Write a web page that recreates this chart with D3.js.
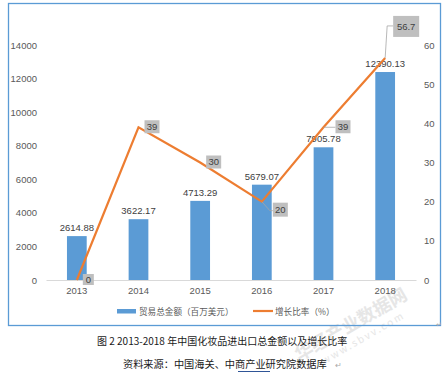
<!DOCTYPE html>
<html><head><meta charset="utf-8">
<script src="https://cdn.jsdelivr.net/npm/d3@7"></script>
<style>
html,body{margin:0;padding:0;background:#fff;}
svg{display:block;font-family:"Liberation Sans","Noto Sans CJK SC",sans-serif;}
</style></head>
<body>
<svg id="c" width="445" height="374"></svg>
<script>
const years = ["2013","2014","2015","2016","2017","2018"];
const tradeTotal = [2614.88, 3622.17, 4713.29, 5679.07, 7905.78, 12390.13];
const growthRate = [0, 39, 30, 20, 39, 56.7];
const leftTicks = [0, 2000, 4000, 6000, 8000, 10000, 12000, 14000];
const rightTicks = [0, 10, 20, 30, 40, 50, 60];
const legendLabels = ["贸易总金额（百万美元）", "增长比率（%）"];
const captionText = "图 2 2013-2018 年中国化妆品进出口总金额以及增长比率";
const sourceText = "资料来源：中国海关、中商产业研究院数据库";

const svg = d3.select("#c");
const cjk = '"Noto Sans CJK SC","Liberation Sans",sans-serif';
const gray = "#595959";
const blue = "#5B9BD5", orange = "#ED7D31";

// watermark (drawn first, behind everything)
const wm = svg.append("g").attr("transform","translate(354,330) rotate(-30)").attr("fill","#e6e6e6").attr("font-family",cjk);
wm.append("text").attr("x",0).attr("y",0).attr("text-anchor","middle").attr("font-size",18).attr("font-weight","bold").text("华经产业数据网");
wm.append("text").attr("x",4).attr("y",15).attr("text-anchor","middle").attr("font-size",10).attr("letter-spacing",2).text("www.sbvv.com");

// chart frame
svg.append("rect").attr("x",8.5).attr("y",3.5).attr("width",432).attr("height",322)
  .attr("fill","none").attr("stroke",blue).attr("stroke-width",1.3);

const plot = {left:46, right:416, top:45, bottom:280};
const x = d3.scaleBand().domain(years).range([plot.left, plot.right]).paddingInner(0.68).paddingOuter(0.34);
const yL = d3.scaleLinear().domain([0,14000]).range([plot.bottom, plot.top]);
const yR = d3.scaleLinear().domain([0,60]).range([plot.bottom, plot.top]);
const cx = d => x(d) + x.bandwidth()/2;

// left axis
const gL = svg.append("g").attr("transform",`translate(${plot.left},0)`)
  .call(d3.axisLeft(yL).tickValues(leftTicks).tickSize(0).tickPadding(9).tickFormat(d3.format("d")));
gL.select(".domain").remove();
gL.selectAll("text").attr("fill",gray).attr("font-size",9.5);

// right axis
const gR = svg.append("g").attr("transform",`translate(${plot.right},0)`)
  .call(d3.axisRight(yR).tickValues(rightTicks).tickSize(0).tickPadding(8));
gR.select(".domain").remove();
gR.selectAll("text").attr("fill",gray).attr("font-size",9.5);

// bottom axis
const gB = svg.append("g").attr("transform",`translate(0,${plot.bottom})`)
  .call(d3.axisBottom(x).tickSize(0).tickPadding(7));
gB.select(".domain").attr("stroke","#d9d9d9").attr("stroke-width",1);
gB.selectAll("text").attr("fill",gray).attr("font-size",9.5);

// bars
svg.append("g").selectAll("rect").data(years).join("rect")
  .attr("x", d => x(d)).attr("width", x.bandwidth())
  .attr("y", (d,i) => yL(tradeTotal[i]))
  .attr("height", (d,i) => plot.bottom - yL(tradeTotal[i]))
  .attr("fill", blue);

// bar labels
svg.append("g").selectAll("text").data(years).join("text")
  .attr("x", d => cx(d)).attr("y", (d,i) => yL(tradeTotal[i]) - 5)
  .attr("text-anchor","middle").attr("font-size",9.5).attr("fill","#404040")
  .text((d,i) => d3.format(".2f")(tradeTotal[i]));

// line
const line = d3.line().x((d,i) => cx(years[i])).y(d => yR(d));
svg.append("path").datum(growthRate).attr("d", line)
  .attr("fill","none").attr("stroke",orange).attr("stroke-width",2.2).attr("stroke-linejoin","miter");

// line labels (callout boxes) — offsets relative to data point
const callouts = [
  {dx:6, dy:-6, w:11, h:11, leader:null},
  {dx:6, dy:-7, w:15, h:13, leader:null},
  {dx:6, dy:-7, w:15, h:13, leader:null},
  {dx:11, dy:1, w:15, h:14, leader:[[0,0],[8,9],[11,9]]},
  {dx:12, dy:-7, w:15, h:13, leader:[[0,0],[12,0]]},
  {dx:8, dy:-42, w:26, h:21, leader:[[0,0],[2,-32],[8,-32]]}
];
const gC = svg.append("g");
growthRate.forEach((v,i) => {
  const px = cx(years[i]), py = yR(v), c = callouts[i];
  if (c.leader) {
    gC.append("path").attr("d", d3.line()(c.leader.map(p => [px+p[0], py+p[1]])))
      .attr("fill","none").attr("stroke","#a6a6a6").attr("stroke-width",0.8);
  }
  gC.append("rect").attr("x", px + c.dx).attr("y", py + c.dy).attr("width", c.w).attr("height", c.h)
    .attr("fill","#bfbfbf");
  gC.append("text").attr("x", px + c.dx + c.w/2).attr("y", py + c.dy + c.h/2 + 3.4)
    .attr("text-anchor","middle").attr("font-size",9.5).attr("fill","#404040")
    .text(d3.format("~g")(v));
});

// legend
const lg = svg.append("g");
lg.append("rect").attr("x",117).attr("y",309).attr("width",19).attr("height",4.5).attr("fill",blue);
lg.append("text").attr("x",139).attr("y",314.5).attr("font-family",cjk).attr("font-size",8.6).attr("fill",gray).text(legendLabels[0]);
lg.append("line").attr("x1",253).attr("x2",273).attr("y1",311).attr("y2",311).attr("stroke",orange).attr("stroke-width",2.2);
lg.append("text").attr("x",275).attr("y",314.5).attr("font-family",cjk).attr("font-size",8.6).attr("fill",gray).text(legendLabels[1]);

// caption
svg.append("text").attr("x",97).attr("y",345).attr("font-family",cjk).attr("font-size",10).attr("fill","#1a1a1a").text(captionText);
svg.append("text").attr("x",123).attr("y",368).attr("font-family",cjk).attr("font-size",10.2).attr("fill","#1a1a1a").text(sourceText);
svg.append("line").attr("x1",238).attr("x2",270).attr("y1",371.5).attr("y2",371.5).attr("stroke","#2f5597").attr("stroke-width",1);
svg.append("text").attr("x",335).attr("y",368).attr("font-family",cjk).attr("font-size",8).attr("fill","#aaa").text("↵");
svg.append("text").attr("x",436).attr("y",327).attr("font-family",cjk).attr("font-size",7).attr("fill","#aaa").text("↵");
</script>
</body></html>
